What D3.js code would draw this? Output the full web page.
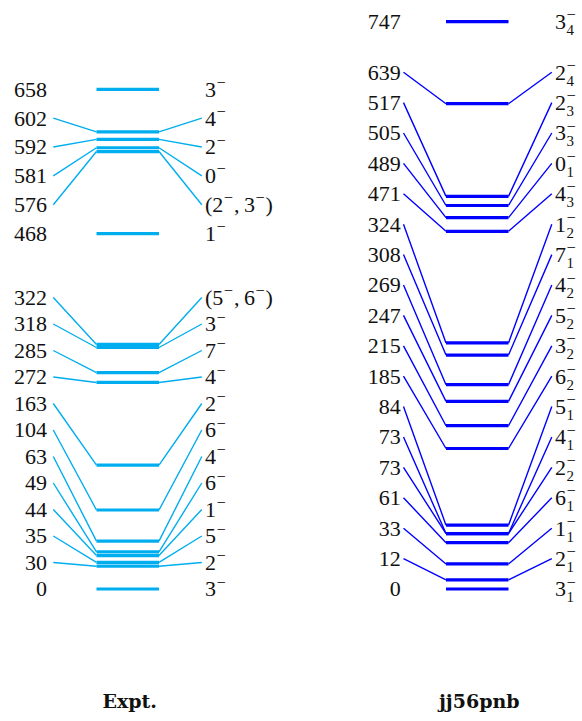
<!DOCTYPE html>
<html>
<head>
<meta charset="utf-8">
<script src="https://cdn.jsdelivr.net/npm/d3@7"></script>
<style>
  html, body { margin: 0; padding: 0; background: #fff; }
  svg { display: block; }
</style>
</head>
<body>
<svg id="chart" width="582" height="721"></svg>
<script>
// Level energies (keV) and spin-parity assignments, lowest level first.
const exptEnergies = [0, 30, 35, 44, 49, 63, 104, 163, 272, 285, 318, 322, 468, 576, 581, 592, 602, 658];
const exptSpins = ["3^-", "2^-", "5^-", "1^-", "6^-", "4^-", "6^-", "2^-", "4^-", "7^-", "3^-",
  "(5^-,\u20096^-)", "1^-", "(2^-,\u20093^-)", "0^-", "2^-", "4^-", "3^-"];

const calcEnergies = [0, 12, 33, 61, 73, 73, 84, 185, 215, 247, 269, 308, 324, 471, 489, 505, 517, 639, 747];
const calcSpins = ["3_1^-", "2_1^-", "1_1^-", "6_1^-", "2_2^-", "4_1^-", "5_1^-", "6_2^-", "3_2^-", "5_2^-",
  "4_2^-", "7_1^-", "1_2^-", "4_3^-", "0_1^-", "3_3^-", "2_3^-", "2_4^-", "3_4^-"];

const columnTitles = ["Expt.", "jj56pnb"];

// Layout of the two level columns.
const columns = [
  { energies: exptEnergies, spins: exptSpins, title: columnTitles[0], color: "#00aeef",
    valueX: 47, lineL: 53.3, barL: 96.5, barR: 159, lineR: 201.8, spinX: 205,
    // label clusters: [first index, last index, label pitch in px or null to end on the top bar]
    groups: [[0, 11, 26.5], [12, 17, null]] },
  { energies: calcEnergies, spins: calcSpins, title: columnTitles[1], color: "#0000ff",
    valueX: 400.8, lineL: 403.5, barL: 446, barR: 508.5, lineR: 551.8, spinX: 555,
    groups: [[0, 17, 30.4], [18, 18, 0]] }
];

const FONT = "'Liberation Serif', 'Times New Roman', serif";
const FS = 22;

const svg = d3.select("#chart");
const y = d3.scaleLinear().domain([0, 747]).range([589, 21.7]);

function textWidth(txt, size) {
  const t = svg.append("text")
    .attr("font-family", FONT).attr("font-size", size)
    .attr("visibility", "hidden").text(txt);
  const w = t.node().getComputedTextLength();
  t.remove();
  return w;
}

// Draws a label like "3_4^-" or "(2^-, 3^-)" as one text element: "_" gives a
// subscript, "^" a superscript; scripts on the same base character are stacked.
function drawSpin(g, str, x0, baseY) {
  const text = g.append("text")
    .attr("font-family", FONT).attr("font-size", FS).attr("fill", "#111");
  let cx = x0;
  let i = 0;
  while (i < str.length) {
    let run = "";
    while (i < str.length && str[i] !== "^" && str[i] !== "_") { run += str[i]; i++; }
    if (run) {
      text.append("tspan").attr("x", cx).attr("y", baseY).text(run);
      cx += textWidth(run, FS);
    }
    let sup = null, sub = null;
    while (i < str.length && (str[i] === "^" || str[i] === "_")) {
      let ch = str[i + 1];
      if (ch === "-") ch = "\u2212";
      if (str[i] === "^") sup = ch; else sub = ch;
      i += 2;
    }
    let w = 0;
    if (sup) {
      const s = FS * 0.74;
      text.append("tspan").attr("x", cx + 0.5).attr("y", baseY - 0.4 * FS)
        .attr("font-size", s).text(sup);
      w = Math.max(w, textWidth(sup, s));
    }
    if (sub) {
      const s = FS * 0.68;
      text.append("tspan").attr("x", cx + 0.5).attr("y", baseY + 0.27 * FS)
        .attr("font-size", s).text(sub);
      w = Math.max(w, textWidth(sub, s));
    }
    if (w) cx += w + 1.5;
  }
}

columns.forEach(col => {
  const g = svg.append("g");
  const n = col.energies.length;

  // vertical position of each label, spread evenly inside its cluster
  const labelY = new Array(n);
  col.groups.forEach(([a, b, pitch]) => {
    const p = pitch === null ? (y(col.energies[a]) - y(col.energies[b])) / (b - a) : pitch;
    for (let k = a; k <= b; k++) labelY[k] = y(col.energies[a]) - (k - a) * p;
  });

  const idx = d3.range(n);

  // connector lines from labels to level bars
  const moved = idx.filter(k => Math.abs(labelY[k] - y(col.energies[k])) > 0.5);
  g.selectAll("path.conn")
    .data(moved)
    .join("path")
    .attr("class", "conn")
    .attr("fill", "none")
    .attr("stroke", col.color)
    .attr("stroke-width", 1.4)
    .attr("d", k => {
      const yb = y(col.energies[k]);
      return `M${col.lineL},${labelY[k]}L${col.barL},${yb}M${col.barR},${yb}L${col.lineR},${labelY[k]}`;
    });

  // level bars
  g.selectAll("line.level")
    .data(idx)
    .join("line")
    .attr("class", "level")
    .attr("x1", col.barL).attr("x2", col.barR)
    .attr("y1", k => y(col.energies[k])).attr("y2", k => y(col.energies[k]))
    .attr("stroke", col.color)
    .attr("stroke-width", 3.2);

  // energy labels
  g.selectAll("text.energy")
    .data(idx)
    .join("text")
    .attr("class", "energy")
    .attr("x", col.valueX)
    .attr("y", k => labelY[k] + 7.4)
    .attr("text-anchor", "end")
    .attr("font-family", FONT)
    .attr("font-size", FS)
    .attr("fill", "#111")
    .text(k => col.energies[k]);

  // spin-parity labels
  idx.forEach(k => drawSpin(g, col.spins[k], col.spinX, labelY[k] + 7.4));

  // column title
  g.append("text")
    .attr("x", (col.barL + col.barR) / 2 + 2)
    .attr("y", 708)
    .attr("text-anchor", "middle")
    .attr("font-family", "'DejaVu Serif', serif")
    .attr("font-weight", "bold")
    .attr("font-size", 19)
    .attr("fill", "#111")
    .text(col.title);
});
</script>
</body>
</html>
